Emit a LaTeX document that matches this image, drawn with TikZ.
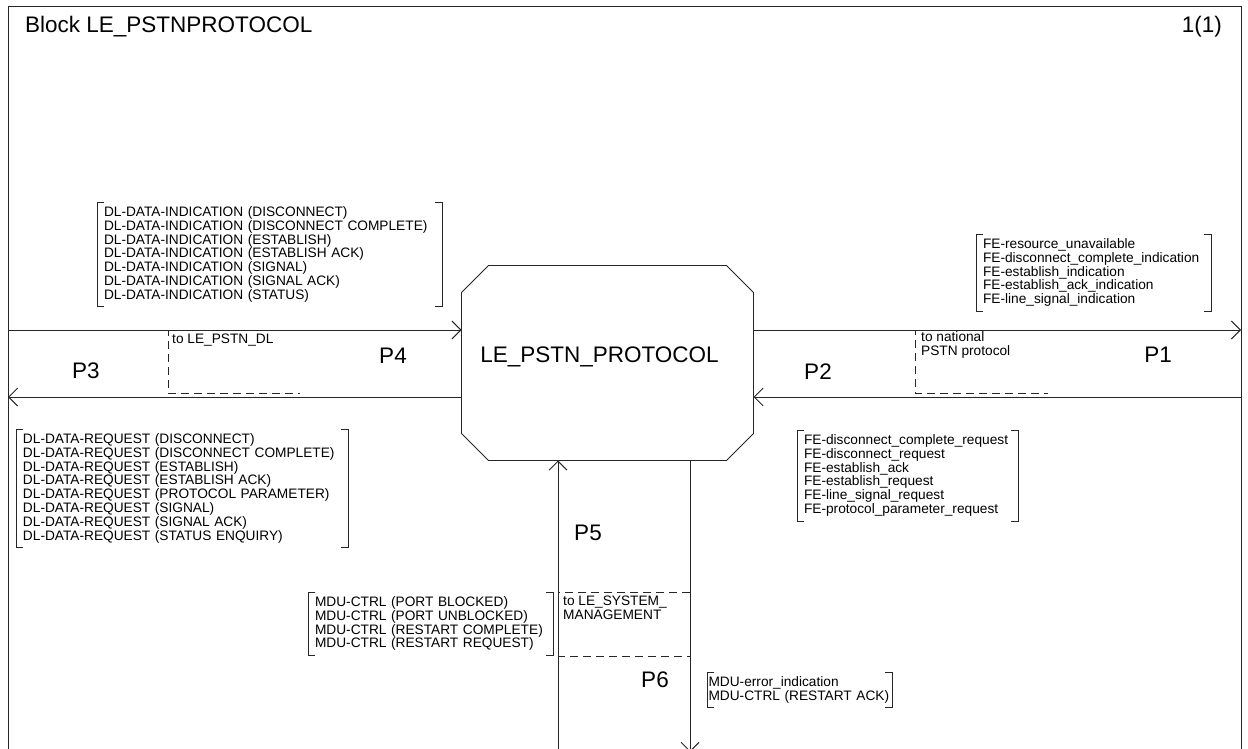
\documentclass[tikz,border=0pt]{standalone}
\usepackage{fontspec}
\setmainfont{Liberation Sans}
\usetikzlibrary{arrows.meta}
\newcommand{\sigbrackets}[1]{%
  \draw[line] ([xshift=7pt]#1.north west) -- (#1.north west) -- (#1.south west) -- ([xshift=7pt]#1.south west);
  \draw[line] ([xshift=-7pt]#1.north east) -- (#1.north east) -- (#1.south east) -- ([xshift=-7pt]#1.south east);}

\begin{document}
\begin{tikzpicture}[x=1pt,y=-1pt,
        line/.style={draw=black!85,line width=0.9pt},
        sig/.style={line,-{Straight Barb[length=9pt,width=18pt]}},
        cmt/.style={draw=black!85,line width=0.9pt,dash pattern=on 8pt off 5pt},
        big/.style={font=\fontsize{22.5}{26}\selectfont,inner sep=0pt},
        small/.style={font=\fontsize{13.7}{13.8}\selectfont,align=left,inner sep=0pt},
        sigs/.style={small,anchor=north west,inner xsep=7pt,inner ysep=4.6pt,outer sep=0pt},
        block/.style={minimum width=292pt,minimum height=195pt,inner sep=0pt,outer sep=0pt}]
        \useasboundingbox (0,0) rectangle (1248,749);
        \draw[line] (8,760) -- (8,6) -- (1241,6) -- (1241,760);
        \node[big,anchor=base west] (title) at (25,33) {Block LE\_PSTNPROTOCOL};
        \node[big,anchor=base east] (page) at (1222,33) {1(1)};

        \node[block] (blk) at (607.5,363) {};
        \draw[line] ([xshift=27pt]blk.north west) -- ([xshift=-27pt]blk.north east)
          -- ([yshift=-27pt]blk.north east) -- ([yshift=27pt]blk.south east)
          -- ([xshift=-27pt]blk.south east) -- ([xshift=27pt]blk.south west)
          -- ([yshift=27pt]blk.south west) -- ([yshift=-27pt]blk.north west) -- cycle;
        \node[big,anchor=base] (blkname) at (599.5,362.7) {LE\_PSTN\_PROTOCOL};

        \coordinate (p4in) at (8,330);
        \coordinate (p3out) at (8,397);
        \coordinate (p1out) at (1241,330);
        \coordinate (p2in) at (1241,397);
        \coordinate (p5in) at (558,760);
        \coordinate (p6out) at (690,752);
        \draw[sig] (p4in) -- (p4in -| blk.west);
        \draw[sig] (p3out -| blk.west) -- (p3out);
        \draw[sig] (p1out -| blk.east) -- (p1out);
        \draw[sig] (p2in) -- (p2in -| blk.east);
        \draw[sig] (p5in) -- (p5in |- blk.south);
        \draw[sig] (p6out |- blk.south) -- (p6out);

        \node[big] (p3) at (86,371) {P3};
        \node[big] (p4) at (393,356) {P4};
        \node[big] (p2) at (818,372) {P2};
        \node[big] (p1) at (1158,355) {P1};
        \node[big] (p5) at (588,533) {P5};
        \node[big] (p6) at (655,680) {P6};

        \draw[cmt] (300,330) -- (168,330) -- (168,393) -- (300,393);
        \node[small,anchor=base west] (dlcmt) at (172,343) {to LE\_PSTN\_DL};
        \draw[cmt] (1048,330) -- (915,330) -- (915,393) -- (1048,393);
        \node[small,anchor=north west] (pstncmt) at (921,331.5) {to national\\PSTN protocol};
        \draw[cmt] (690,592) -- (558,592) -- (558,656) -- (690,656);
        \node[small,anchor=north west] (mgmtcmt) at (563,596) {to LE\_SYSTEM\_\\MANAGEMENT};

        \node[sigs,text width=331pt] (dlind) at (97,202)
          {DL-DATA-INDICATION (DISCONNECT)\\DL-DATA-INDICATION (DISCONNECT COMPLETE)\\
           DL-DATA-INDICATION (ESTABLISH)\\DL-DATA-INDICATION (ESTABLISH ACK)\\
           DL-DATA-INDICATION (SIGNAL)\\DL-DATA-INDICATION (SIGNAL ACK)\\
           DL-DATA-INDICATION (STATUS)};
        \node[sigs,text width=221pt] (feind) at (976,234)
          {FE-resource\_unavailable\\FE-disconnect\_complete\_indication\\
           FE-establish\_indication\\FE-establish\_ack\_indication\\
           FE-line\_signal\_indication};
        \node[sigs,text width=318pt] (dlreq) at (16,429)
          {DL-DATA-REQUEST (DISCONNECT)\\DL-DATA-REQUEST (DISCONNECT COMPLETE)\\
           DL-DATA-REQUEST (ESTABLISH)\\DL-DATA-REQUEST (ESTABLISH ACK)\\
           DL-DATA-REQUEST (PROTOCOL PARAMETER)\\DL-DATA-REQUEST (SIGNAL)\\
           DL-DATA-REQUEST (SIGNAL ACK)\\DL-DATA-REQUEST (STATUS ENQUIRY)};
        \node[sigs,text width=207pt] (fereq) at (797,430)
          {FE-disconnect\_complete\_request\\FE-disconnect\_request\\
           FE-establish\_ack\\FE-establish\_request\\
           FE-line\_signal\_request\\FE-protocol\_parameter\_request};
        \node[sigs,text width=231pt] (mductrl) at (308,592)
          {MDU-CTRL (PORT BLOCKED)\\MDU-CTRL (PORT UNBLOCKED)\\
           MDU-CTRL (RESTART COMPLETE)\\MDU-CTRL (RESTART REQUEST)};
        \node[sigs,inner xsep=1.5pt,text width=182pt] (mduerr) at (707,672)
          {MDU-error\_indication\\MDU-CTRL (RESTART ACK)};
        \sigbrackets{dlind}
        \sigbrackets{feind}
        \sigbrackets{dlreq}
        \sigbrackets{fereq}
        \sigbrackets{mductrl}
        \sigbrackets{mduerr}
      \end{tikzpicture}
\end{document}
